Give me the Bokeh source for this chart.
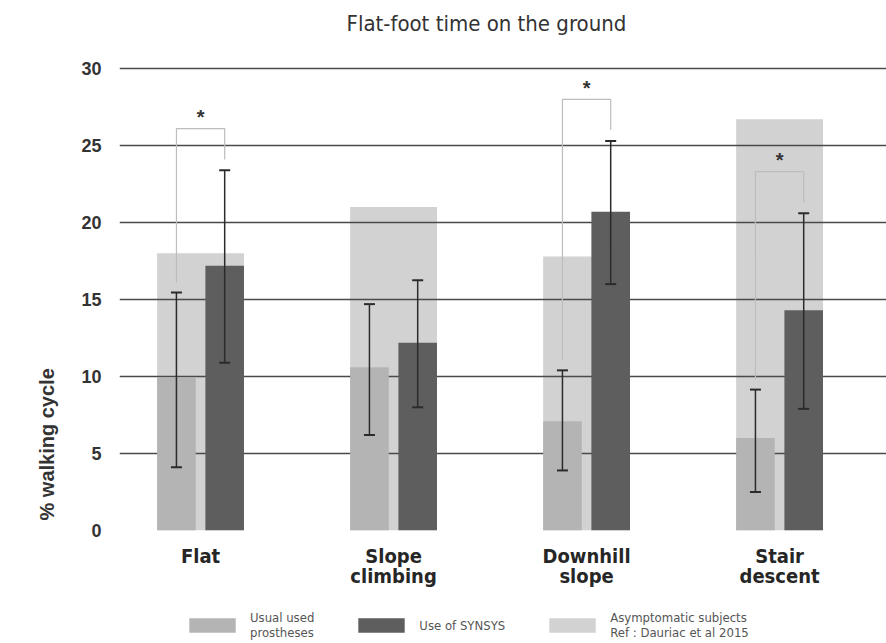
import numpy as np
from bokeh.plotting import figure
from bokeh.layouts import column
from bokeh.models import (ColumnDataSource, Whisker, TeeHead, Legend, LegendItem,
                          FixedTicker, Range1d)
from bokeh.core.properties import value
from bokeh.embed import file_html
from bokeh.resources import INLINE

# ---------------- data ----------------
categories = ["Flat", "Slope climbing", "Downhill slope", "Stair descent"]
tick_labels = ["Flat", "Slope\nclimbing", "Downhill\nslope", "Stair\ndescent"]
usual = [9.9, 10.6, 7.1, 6.0]
usual_lo = [4.1, 6.2, 3.9, 2.5]
usual_hi = [15.45, 14.7, 10.4, 9.15]
synsys = [17.2, 12.2, 20.7, 14.3]
synsys_lo = [10.9, 8.0, 16.0, 7.9]
synsys_hi = [23.4, 16.25, 25.3, 20.6]
asymptomatic = [18.0, 21.0, 17.8, 26.7]
significant = [True, False, True, True]
y_ticks = [0, 5, 10, 15, 20, 25, 30]
legend_labels = ["Usual used\nprostheses", "Use of SYNSYS",
                 "Asymptomatic subjects\nRef : Dauriac et al 2015"]

NARROW = "Liberation Sans Narrow, DejaVu Sans Condensed, Roboto, sans-serif"
C_USUAL, C_SYN, C_ASYM = "#b4b4b4", "#5e5e5e", "#d2d2d2"

x = np.arange(len(categories))
xu = x - 0.125
xs = x + 0.125

p = figure(width=886, height=600, output_backend="svg", toolbar_location=None,
           x_range=Range1d(-0.42, 3.554), y_range=Range1d(0, 31.82),
           min_border_left=119, min_border_right=0, min_border_top=40,
           min_border_bottom=70)
p.outline_line_color = None
p.background_fill_color = "white"
p.border_fill_color = "white"

p.title.text = "Flat-foot time on the ground"
p.title.align = "left"
p.title.offset = 227
p.title.text_font = NARROW
p.title.text_font_size = "22px"
p.title.text_font_style = "normal"
p.title.text_color = "#333333"

asym_src = ColumnDataSource(dict(x=x, top=asymptomatic))
us_src = ColumnDataSource(dict(x=xu, top=usual, lo=usual_lo, hi=usual_hi))
sy_src = ColumnDataSource(dict(x=xs, top=synsys, lo=synsys_lo, hi=synsys_hi))

p.vbar(x="x", top="top", bottom=0, width=0.45, source=asym_src,
       fill_color=C_ASYM, line_color=None, level="image")
p.vbar(x="x", top="top", bottom=0, width=0.2, source=us_src,
       fill_color=C_USUAL, line_color=None)
p.vbar(x="x", top="top", bottom=0, width=0.2, source=sy_src,
       fill_color=C_SYN, line_color=None)

for src in (us_src, sy_src):
    w = Whisker(base="x", lower="lo", upper="hi", source=src,
                line_color="#2b2b2b", line_width=1.5, level="annotation",
                upper_head=TeeHead(size=11, line_color="#2b2b2b", line_width=2),
                lower_head=TeeHead(size=11, line_color="#2b2b2b", line_width=2))
    p.add_layout(w)

# significance brackets
bxs, bys, sx, sy = [], [], [], []
for i, sig in enumerate(significant):
    if not sig:
        continue
    top = synsys_hi[i] + 2.7
    bxs.append([xu[i], xu[i], xs[i], xs[i]])
    bys.append([usual_hi[i] + 0.65, top, top, synsys_hi[i] + 0.7])
    sx.append(x[i])
    sy.append(top + 0.75)
p.multi_line(xs=bxs, ys=bys, line_color="#bdbdbd", line_width=1.2)
p.text(x=sx, y=sy, text=["*"] * len(sx), text_align="center",
       text_baseline="middle", text_font_size="20px", text_font_style="bold",
       text_color="#333333", text_font=value("Liberation Sans"))

# axes
p.xgrid.grid_line_color = None
p.ygrid.grid_line_color = "#4a4a4a"
p.ygrid.grid_line_width = 1.5
yax = p.yaxis[0]
yax.ticker = FixedTicker(ticks=y_ticks)
yax.axis_line_color = None
yax.major_tick_line_color = None
yax.minor_tick_line_color = None
yax.major_label_standoff = 12
yax.major_label_text_font = "Liberation Sans"
yax.major_label_text_font_style = "bold"
yax.major_label_text_font_size = "18px"
yax.major_label_text_color = "#333333"
# leading no-break spaces lift the label so that it starts at the zero line
yax.axis_label = "\u00a0" * 31 + "% walking cycle"
yax.axis_label_text_font = "Liberation Sans"
yax.axis_label_text_font_style = "bold"
yax.axis_label_text_font_size = "20px"
yax.axis_label_text_color = "#333333"
yax.axis_label_standoff = 20
yax.axis_label_align = "start"

xax = p.xaxis[0]
xax.ticker = FixedTicker(ticks=list(x))
xax.major_label_overrides = {int(i): t for i, t in zip(x, tick_labels)}
xax.axis_line_color = None
xax.major_tick_line_color = None
xax.minor_tick_line_color = None
xax.major_label_standoff = 7
xax.major_label_text_font = NARROW
xax.major_label_text_font_style = "bold"
xax.major_label_text_font_size = "20px"
xax.major_label_text_line_height = 0.86
xax.major_label_text_color = "#262626"

# ---------------- legend strip ----------------
lg = figure(width=886, height=43, output_backend="svg", toolbar_location=None,
            x_range=Range1d(0, 1), y_range=Range1d(0, 1),
            x_axis_location=None, y_axis_location=None,
            min_border_left=0, min_border_right=0, min_border_top=0, min_border_bottom=0)
lg.outline_line_color = None
lg.background_fill_color = "white"
lg.border_fill_color = "white"
lg.grid.visible = False
items = []
for lab, col in zip(legend_labels, [C_USUAL, C_SYN, C_ASYM]):
    # off-screen proxy bars: only their legend swatches are seen
    r = lg.vbar(x=[0.5], top=[-5], bottom=[-6], width=0.2, fill_color=col, line_color=None)
    items.append(LegendItem(label=lab, renderers=[r]))
legend = Legend(items=items, orientation="horizontal", location=(64, 3),
                glyph_width=58, glyph_height=18,
                label_text_font=NARROW, label_text_font_size="13px", label_text_color="#555555",
                label_standoff=9, spacing=38, border_line_color=None, background_fill_alpha=0,
                padding=0, margin=0)
lg.add_layout(legend)

layout = column(p, lg, spacing=0)
open("out.html", "w").write(file_html(layout, INLINE))
